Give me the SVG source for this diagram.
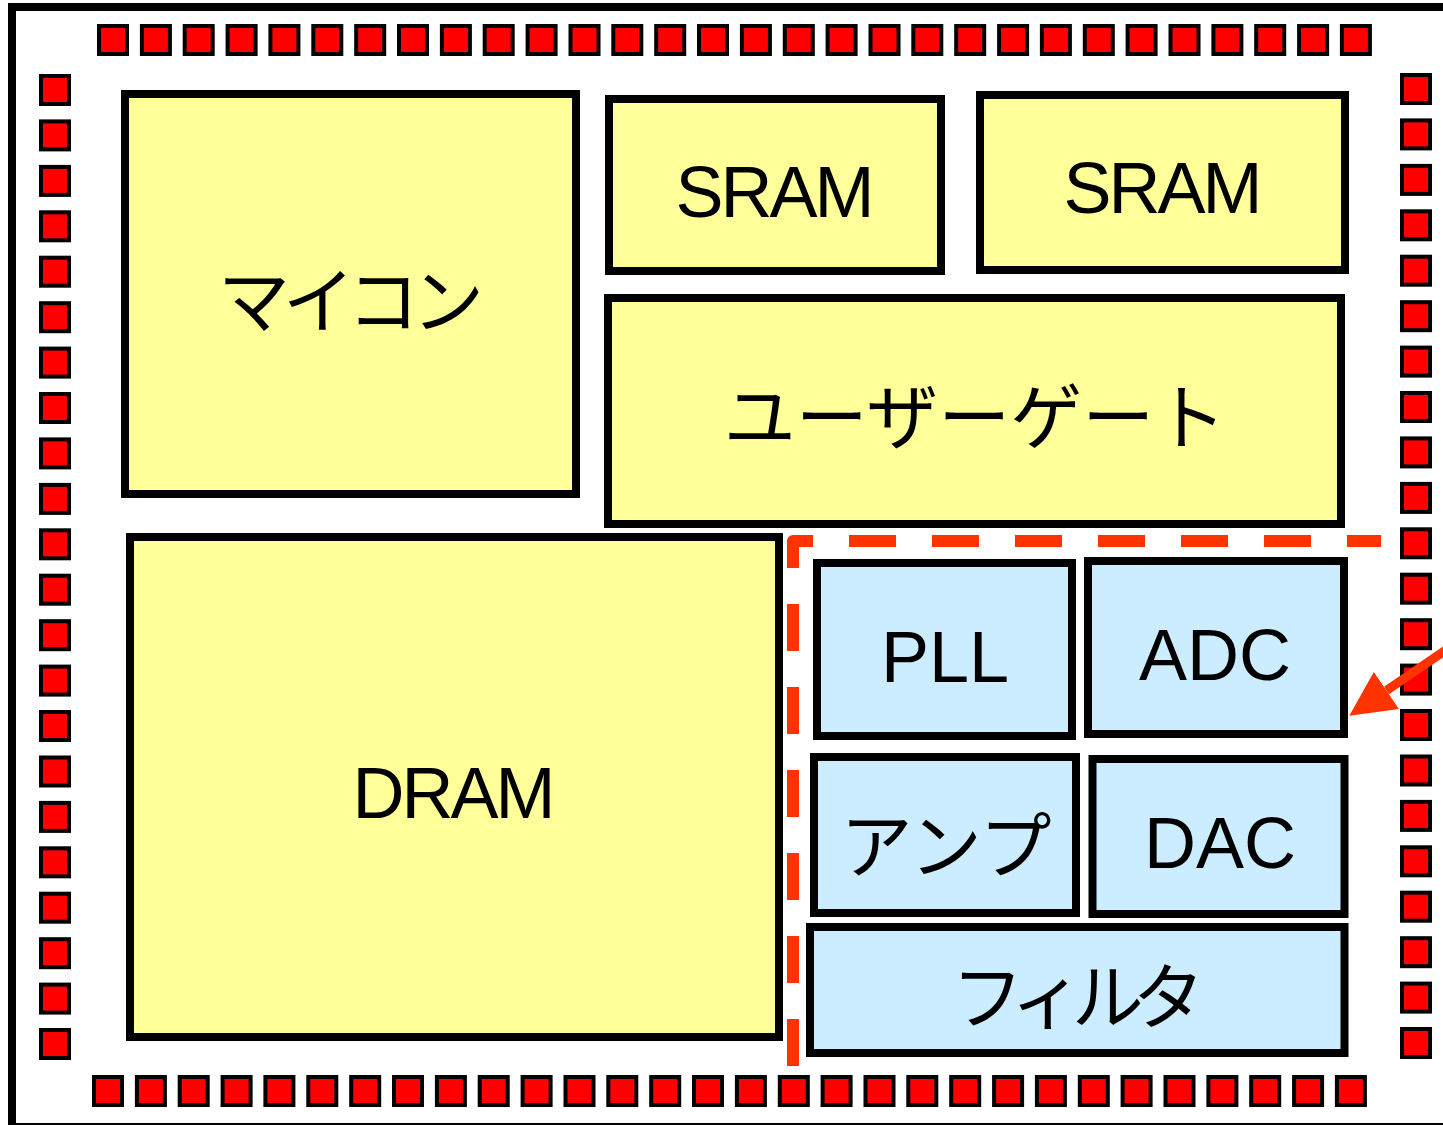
<svg xmlns="http://www.w3.org/2000/svg" xmlns:xlink="http://www.w3.org/1999/xlink" width="1443" height="1125" viewBox="0 0 1443 1125">
<style>
.frame{fill:#FFFFFF;stroke:#000000;stroke-width:8}
.dig{fill:#FFFF99;stroke:#000000;stroke-width:8}
.ana{fill:#CCECFF;stroke:#000000;stroke-width:8}
.lat{font-family:"Liberation Sans",Arial,sans-serif;font-size:72px;fill:#000000;text-anchor:middle}
.jp{font-family:"Noto Sans CJK JP","Noto Sans",sans-serif;font-size:72px;fill:#000000;text-anchor:middle;dominant-baseline:central}
.pad{fill:#FF0000;stroke:#000000;stroke-width:4}
.dash{fill:none;stroke:#FF3300;stroke-width:12;stroke-dasharray:47 36;stroke-linejoin:round}
.arrow{fill:none;stroke:#FF3300;stroke-width:9}
</style>
<defs>
<rect id="pad" class="pad" width="28" height="28"/>
<marker id="ah" viewBox="0 0 45 45" refX="0" refY="22.5" markerWidth="45" markerHeight="45" markerUnits="userSpaceOnUse" orient="auto">
<path d="M0,0 L45,22.5 L0,45 z" fill="#FF3300"/>
</marker>
</defs>
<rect class="frame" x="12" y="7" width="1460" height="1120"/>
<g id="pads">
<g id="pads-top">
<use href="#pad" x="99" y="26"/><use href="#pad" x="141.9" y="26"/><use href="#pad" x="184.7" y="26"/><use href="#pad" x="227.6" y="26"/><use href="#pad" x="270.4" y="26"/><use href="#pad" x="313.3" y="26"/><use href="#pad" x="356.2" y="26"/><use href="#pad" x="399" y="26"/><use href="#pad" x="441.9" y="26"/><use href="#pad" x="484.7" y="26"/><use href="#pad" x="527.6" y="26"/><use href="#pad" x="570.5" y="26"/><use href="#pad" x="613.3" y="26"/><use href="#pad" x="656.2" y="26"/><use href="#pad" x="699" y="26"/><use href="#pad" x="741.9" y="26"/><use href="#pad" x="784.8" y="26"/><use href="#pad" x="827.6" y="26"/><use href="#pad" x="870.5" y="26"/><use href="#pad" x="913.3" y="26"/><use href="#pad" x="956.2" y="26"/><use href="#pad" x="999.1" y="26"/><use href="#pad" x="1041.9" y="26"/><use href="#pad" x="1084.8" y="26"/><use href="#pad" x="1127.6" y="26"/><use href="#pad" x="1170.5" y="26"/><use href="#pad" x="1213.4" y="26"/><use href="#pad" x="1256.2" y="26"/><use href="#pad" x="1299.1" y="26"/><use href="#pad" x="1341.9" y="26"/>
</g>
<g id="pads-bottom">
<use href="#pad" x="94" y="1077"/><use href="#pad" x="136.9" y="1077"/><use href="#pad" x="179.7" y="1077"/><use href="#pad" x="222.6" y="1077"/><use href="#pad" x="265.4" y="1077"/><use href="#pad" x="308.3" y="1077"/><use href="#pad" x="351.2" y="1077"/><use href="#pad" x="394" y="1077"/><use href="#pad" x="436.9" y="1077"/><use href="#pad" x="479.7" y="1077"/><use href="#pad" x="522.6" y="1077"/><use href="#pad" x="565.5" y="1077"/><use href="#pad" x="608.3" y="1077"/><use href="#pad" x="651.2" y="1077"/><use href="#pad" x="694" y="1077"/><use href="#pad" x="736.9" y="1077"/><use href="#pad" x="779.8" y="1077"/><use href="#pad" x="822.6" y="1077"/><use href="#pad" x="865.5" y="1077"/><use href="#pad" x="908.3" y="1077"/><use href="#pad" x="951.2" y="1077"/><use href="#pad" x="994.1" y="1077"/><use href="#pad" x="1036.9" y="1077"/><use href="#pad" x="1079.8" y="1077"/><use href="#pad" x="1122.6" y="1077"/><use href="#pad" x="1165.5" y="1077"/><use href="#pad" x="1208.4" y="1077"/><use href="#pad" x="1251.2" y="1077"/><use href="#pad" x="1294.1" y="1077"/><use href="#pad" x="1336.9" y="1077"/>
</g>
<g id="pads-left">
<use href="#pad" x="41" y="76"/><use href="#pad" x="41" y="121.4"/><use href="#pad" x="41" y="166.9"/><use href="#pad" x="41" y="212.3"/><use href="#pad" x="41" y="257.7"/><use href="#pad" x="41" y="303.2"/><use href="#pad" x="41" y="348.6"/><use href="#pad" x="41" y="394"/><use href="#pad" x="41" y="439.4"/><use href="#pad" x="41" y="484.9"/><use href="#pad" x="41" y="530.3"/><use href="#pad" x="41" y="575.7"/><use href="#pad" x="41" y="621.2"/><use href="#pad" x="41" y="666.6"/><use href="#pad" x="41" y="712"/><use href="#pad" x="41" y="757.5"/><use href="#pad" x="41" y="802.9"/><use href="#pad" x="41" y="848.3"/><use href="#pad" x="41" y="893.7"/><use href="#pad" x="41" y="939.2"/><use href="#pad" x="41" y="984.6"/><use href="#pad" x="41" y="1030"/>
</g>
<g id="pads-right">
<use href="#pad" x="1402" y="75"/><use href="#pad" x="1402" y="120.4"/><use href="#pad" x="1402" y="165.9"/><use href="#pad" x="1402" y="211.3"/><use href="#pad" x="1402" y="256.7"/><use href="#pad" x="1402" y="302.2"/><use href="#pad" x="1402" y="347.6"/><use href="#pad" x="1402" y="393"/><use href="#pad" x="1402" y="438.4"/><use href="#pad" x="1402" y="483.9"/><use href="#pad" x="1402" y="529.3"/><use href="#pad" x="1402" y="574.7"/><use href="#pad" x="1402" y="620.2"/><use href="#pad" x="1402" y="665.6"/><use href="#pad" x="1402" y="711"/><use href="#pad" x="1402" y="756.5"/><use href="#pad" x="1402" y="801.9"/><use href="#pad" x="1402" y="847.3"/><use href="#pad" x="1402" y="892.7"/><use href="#pad" x="1402" y="938.2"/><use href="#pad" x="1402" y="983.6"/><use href="#pad" x="1402" y="1029"/>
</g>
</g>
<g id="microcontroller">
<rect class="dig" x="125" y="94" width="451" height="400"/>
<text class="jp" x="351" y="295" textLength="266" lengthAdjust="spacing">マイコン</text>
</g>
<g id="sram1">
<rect class="dig" x="609" y="99" width="332" height="172"/>
<text class="lat" x="775" y="217" textLength="199" lengthAdjust="spacing">SRAM</text>
</g>
<g id="sram2">
<rect class="dig" x="980" y="95" width="365" height="175"/>
<text class="lat" x="1163" y="213" textLength="199" lengthAdjust="spacing">SRAM</text>
</g>
<g id="usergate">
<rect class="dig" x="608" y="298" width="733" height="226"/>
<text class="jp" x="975" y="411">ユーザーゲート</text>
</g>
<g id="dram">
<rect class="dig" x="130" y="537" width="649" height="500"/>
<text class="lat" x="454" y="818" textLength="203" lengthAdjust="spacing">DRAM</text>
</g>
<g id="analog-region">
<path class="dash" d="M793,1066 V541 H1381"/>
</g>
<g id="pll">
<rect class="ana" x="817" y="563" width="255" height="173"/>
<text class="lat" x="945" y="682">PLL</text>
</g>
<g id="adc">
<rect class="ana" x="1088" y="561" width="256" height="173"/>
<text class="lat" x="1215" y="680">ADC</text>
</g>
<g id="amp">
<rect class="ana" x="814" y="757" width="262" height="156"/>
<text class="jp" x="946" y="840">アンプ</text>
</g>
<g id="dac">
<rect class="ana" x="1092.5" y="759" width="252" height="155"/>
<text class="lat" x="1220" y="868">DAC</text>
</g>
<g id="filter">
<rect class="ana" x="810" y="927" width="534.5" height="126"/>
<text class="jp" x="1078" y="991" textLength="253" lengthAdjust="spacing">フィルタ</text>
</g>
<g id="connectors">
<line class="arrow" x1="1460" y1="640.5" x2="1386.5" y2="690.5" marker-end="url(#ah)"/>
</g>
</svg>
